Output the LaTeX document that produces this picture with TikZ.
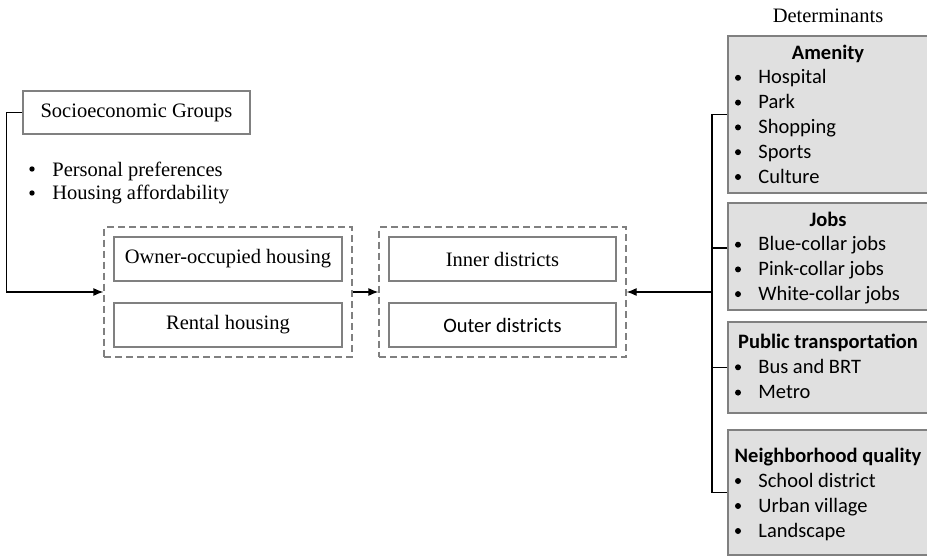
\documentclass[tikz,border=0pt]{standalone}
\usepackage{fontspec}
\setmainfont{Liberation Serif}
\newfontfamily\calfont{Carlito}
\usetikzlibrary{arrows.meta,fit}
\definecolor{boxgray}{RGB}{128,128,128}
\definecolor{fillgray}{RGB}{224,224,224}
\tikzset{
  plainbox/.style={draw=boxgray,line width=0.7pt,minimum width=114pt,minimum height=22pt,inner sep=0pt},
  groupbox/.style={draw=boxgray,line width=0.7pt,dash pattern=on 3.5pt off 2pt,inner sep=4.6pt},
  detbox/.style={draw=boxgray,fill=fillgray,line width=0.7pt,minimum width=104pt,inner sep=0pt},
  item/.style={anchor=base west,inner sep=0pt,font=\calfont},
  title/.style={anchor=base,inner sep=0pt,font=\calfont\bfseries},
  arr/.style={-{Latex[length=5pt,width=4pt]},line width=0.6pt},
}
\begin{document}
\fontsize{10.25pt}{12pt}\selectfont
\begin{tikzpicture}[x=0.5pt,y=-0.5pt]
        \useasboundingbox (0,0) rectangle (927,557);
        \clip (0,0) rectangle (927,557);
        % left side
        \node[plainbox,minimum width=113.5pt,minimum height=21.5pt] (soc) at (136.5,112.5) {Socioeconomic Groups};
        \fill (32,169) circle (1.35pt);
        \fill (32,193) circle (1.35pt);
        \node[anchor=base west,inner sep=0pt] (pref) at (52,176) {Personal preferences};
        \node[anchor=base west,inner sep=0pt] (afford) at (52,199) {Housing affordability};
        % housing tenure
        \node[plainbox] (own) at (228,259) {Owner-occupied housing};
        \node[plainbox] (rent) at (228,325) {Rental housing};
        \node[groupbox,fit=(own)(rent)] (tenure) {};
        % location
        \node[plainbox,minimum width=113.5pt] (inner) at (502.5,259) {Inner districts};
        \node[plainbox,minimum width=113.5pt,font=\calfont] (outer) at (502.5,325) {Outer districts};
        \node[groupbox,fit=(inner)(outer)] (location) {};
        % determinants
        \node[anchor=base] (det) at (828,23) {Determinants};
        \node[detbox,minimum height=78.5pt] (amen) at (832,114.5) {};
        \node[title] at (828,59) {Amenity};
        \foreach \t [count=\i] in {Hospital,Park,Shopping,Sports,Culture} {
            \node[item] at (758,59+24.8*\i) {\t};
            \fill (738,53+24.8*\i) circle (1.5pt);
        }
        \node[detbox,minimum height=53.5pt] (jobs) at (832,256.5) {};
        \node[title] at (828,226) {Jobs};
        \foreach \t [count=\i] in {Blue-collar jobs,Pink-collar jobs,White-collar jobs} {
            \node[item] at (758,226+24.7*\i) {\t};
            \fill (738,220+24.7*\i) circle (1.5pt);
        }
        \node[detbox,minimum height=45.5pt] (pub) at (832,367.5) {};
        \node[title] at (828,348) {Public transportation};
        \foreach \t [count=\i] in {Bus and BRT,Metro} {
            \node[item] at (758,348+25.3*\i) {\t};
            \fill (738,342+25.3*\i) circle (1.5pt);
        }
        \node[detbox,minimum height=62.5pt] (nbh) at (832,492.5) {};
        \node[title] at (828,462) {Neighborhood quality};
        \foreach \t [count=\i] in {School district,Urban village,Landscape} {
            \node[item] at (758,462+25*\i) {\t};
            \fill (738,456+25*\i) circle (1.5pt);
        }
        % connectors
        \coordinate (bus) at (712,292);
        \draw[arr] (soc.west) -- ++(-16,0) |- (tenure.west);
        \draw[arr] (tenure.east) -- (location.west);
        \draw[line width=0.6pt] (amen.west) -| (bus) |- (nbh.west);
        \draw[line width=0.6pt] ([yshift=4.25pt]jobs.west) -- ++(-16,0);
        \draw[line width=0.6pt] (pub.west) -- (pub.west -| bus);
        \draw[arr] (bus) -- (location.east);
    \end{tikzpicture}
\end{document}
